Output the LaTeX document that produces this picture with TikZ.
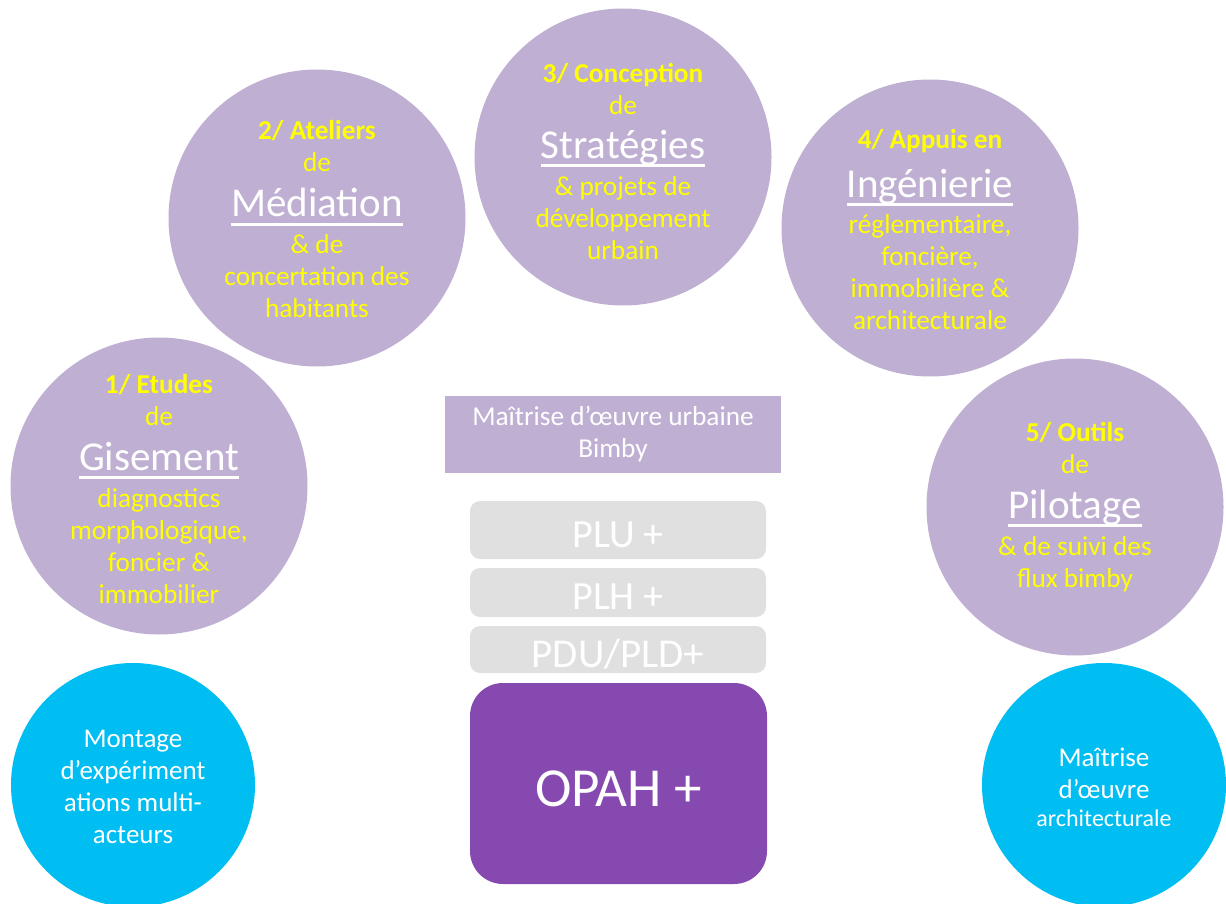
\documentclass[tikz,border=0pt]{standalone}
\usepackage{fontspec}
\setmainfont{Carlito}
\definecolor{lav}{RGB}{191,176,211}
\definecolor{lightgr}{RGB}{224,224,224}
\definecolor{opahc}{RGB}{133,73,175}
\definecolor{skyb}{RGB}{0,189,242}
\definecolor{yel}{RGB}{255,255,0}
\newcommand{\bigul}[1]{{\fontsize{41}{48}\selectfont\color{white}\setbox0\hbox{#1}\rlap{\rule[-9pt]{\wd0}{3pt}}\box0}}
\begin{document}
\begin{tikzpicture}[x=1pt,y=-1pt,
  purplec/.style={circle,fill=lav,minimum size=297pt,inner sep=0pt},
  bluec/.style={circle,fill=skyb,minimum size=244pt,inner sep=0pt},
  ctext/.style={align=center,text=yel,font=\fontsize{27.3}{32}\selectfont,inner sep=0pt},
  wtext/.style={align=center,text=white,font=\fontsize{27}{32}\selectfont,inner sep=0pt},
  planbox/.style={rectangle,rounded corners=10pt,fill=lightgr,minimum width=296pt,inner sep=0pt},
  plantext/.style={text=white,font=\fontsize{40}{44}\selectfont,inner sep=0pt}]
\useasboundingbox (0,0) rectangle (1226,904);

% lavender circles
\node[purplec] (c1) at (159,486) {};
\node[purplec] (c2) at (317,218) {};
\node[purplec] (c3) at (623,157) {};
\node[purplec] (c4) at (930,228) {};
\node[purplec] (c5) at (1075,507) {};

\node[ctext] (t1) at (159,489) {\textbf{1/ Etudes}\\ de\\[13pt] \bigul{Gisement}\\[5pt] diagnostics\\ morphologique,\\ foncier \&\\ immobilier};
\node[ctext] (t2) at (317,219.5) {\textbf{2/ Ateliers}\\ de\\[13pt] \bigul{Médiation}\\[5pt] \& de\\ concertation des\\ habitants};
\node[ctext] (t3) at (623,161.5) {\textbf{3/ Conception}\\ de\\[12pt] \bigul{Stratégies}\\[5pt] \& projets de\\ développement\\ urbain};
\node[ctext] (t4) at (930,229.5) {\textbf{4/ Appuis en}\\[15pt] \bigul{Ingénierie}\\[4pt] réglementaire,\\ foncière,\\ immobilière \&\\ architecturale};
\node[ctext] (t5) at (1075,507) {\textbf{5/ Outils}\\ de\\[13pt] \bigul{Pilotage}\\[5pt] \& de suivi des\\ flux bimby};

% blue circles
\node[bluec] (b1) at (133,785) {};
\node[bluec] (b2) at (1104,785) {};
\node[wtext] (tb1) at (133,786.5) {Montage\\ d’expériment\\ ations multi-\\ acteurs};
\node[wtext] (tb2) at (1104,787.5) {Maîtrise\\ d’œuvre\\[-4pt] {\fontsize{24}{28}\selectfont architecturale}};

% central column
\node[rectangle,fill=lav,minimum width=336pt,minimum height=77pt,inner sep=0pt,
      align=center,text=white,font=\fontsize{27.3}{32}\selectfont] (mo) at (613,434.5) {Maîtrise d’œuvre urbaine\\ Bimby};
\node[planbox,minimum height=58pt] (plu) at (618,530) {};
\node[planbox,minimum height=49pt] (plh) at (618,592.5) {};
\node[planbox,minimum height=47pt] (pdu) at (618,649.5) {};
\node[plantext] (plut) at ([yshift=-5pt]plu.center) {PLU +};
\node[plantext] (plht) at ([yshift=-4pt]plh.center) {PLH +};
\node[plantext,font=\fontsize{41}{44}\selectfont] (pdut) at ([yshift=-5pt]pdu.center) {PDU/PLD+};
\node[rectangle,rounded corners=33pt,fill=opahc,minimum width=297pt,minimum height=201pt,inner sep=0pt] (opah) at (618.5,783.5) {};
\node[text=white,font=\fontsize{55}{60}\selectfont,inner sep=0pt] (opaht) at ([yshift=-5pt]opah.center) {OPAH +};
\end{tikzpicture}
\end{document}
